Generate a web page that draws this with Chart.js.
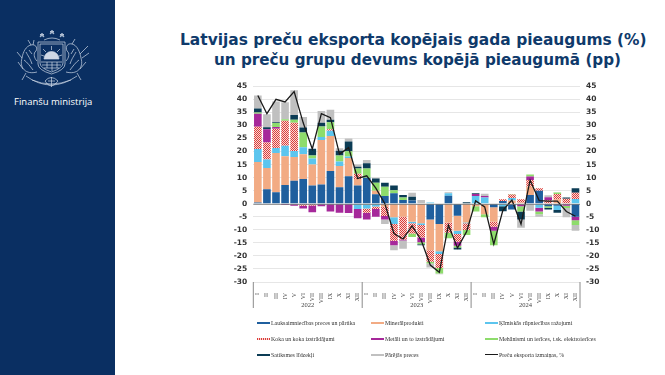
<!DOCTYPE html>
<html lang="lv">

<head>
  <meta charset="UTF-8">
  <title>Preču eksports</title>
  <script src="https://cdn.jsdelivr.net/npm/chart.js"></script>
  <style>
    html, body { margin: 0; padding: 0; background: #fff; }
    #page { position: relative; width: 665px; height: 375px; overflow: hidden; }
    #side { position: absolute; left: 0; top: 0; width: 115px; height: 375px; background: #0a2f62; }
    #side svg { position: absolute; left: 14px; top: 28px; }
    #org { position: absolute; left: 14px; top: 95px; color: #fff; font: 9.5px "Open Sans", sans-serif; white-space: nowrap; }
    .title { position: absolute; color: #0f3a6b; font: bold 15.45px "DejaVu Sans", sans-serif; white-space: nowrap; }
    #chart { position: absolute; left: 0; top: 0; }
    .leg { position: absolute; font: 5.9px "Liberation Serif", serif; color: #333; white-space: nowrap; line-height: 8px; }
    .swatch { position: absolute; width: 13px; height: 2px; }
  </style>
</head>

<body>
  <div id="page">
    <div id="side">
      <svg width="80" height="66" viewBox="0 0 80 66" fill="none" stroke="#cfd8e6" stroke-width="0.7">
        <path d="M24 14 H51 V36 Q51 42 37.5 46 Q24 42 24 36 Z" />
        <path d="M26 16 H49 V35 Q49 40 37.5 44 Q26 40 26 35 Z" />
        <path d="M30 31 A7.5 7.5 0 0 1 45 31 Z" fill="#cfd8e6" />
        <path d="M27 27 L30 28 M29 21 L32 24 M37.5 18 V22 M46 21 L43 24 M48 27 L45 28" />
        <path d="M27 34 H48 M28 37 H47 M30 40 H45 M33 34 V40 M38 34 V43 M43 34 V40" />
        <path d="M26 9 l2 -4 l2 4 l-4 -2.5 h4 Z M36 6 l2 -4 l2 4 l-4 -2.5 h4 Z M46 9 l2 -4 l2 4 l-4 -2.5 h4 Z" />
        <path d="M30 12 Q38 8 46 12" />
        <path d="M23 44 C12 47 5 40 8 30 C9 24 12 18 17 17 C21 16 24 19 22 23 C19 25 20 30 23 33 M9 41 L4 34 M8 30 L3 24 M12 45 L8 52 M17 17 L14 12 M19 17 L20 12 M12 24 C14 28 16 30 18 36 M10 32 C13 34 16 38 19 42 M15 22 L18 26" />
        <path d="M52 44 C63 47 70 40 67 30 C66 24 63 17 58 16 C54 15 51 18 53 23 C56 25 55 30 52 33 M66 41 L72 34 M66 26 L74 18 M68 30 L75 25 M63 45 L67 52 M58 16 L61 11 M62 24 C60 28 58 30 56 36 M65 32 C62 34 59 38 56 42 M60 21 L57 26" />
        <path d="M12 48 Q37 66 63 48 M18 52 Q37 60 57 52" />
        <path d="M31 53 Q37 46 44 53 Q37 63 31 53 Z M34 53 H41 M37.5 49 V59" />
      </svg>
      <div id="org">Finanšu ministrija</div>
    </div>
    <div class="title" style="left:180px;top:31px">Latvijas preču eksporta kopējais gada pieaugums (%)</div>
    <div class="title" style="left:214px;top:51px;font-size:15.2px">un preču grupu devums kopējā pieaugumā (pp)</div>
    <canvas id="chart" width="665" height="375"></canvas>
    <div id="legend"></div>
  </div>

  <script>
    const months = ['I', 'II', 'III', 'IV', 'V', 'VI', 'VII', 'VIII', 'IX', 'X', 'XI', 'XII'];
    const categories = [...months, ...months, ...months];
    const years = ['2022', '2023', '2024'];
    const yTicksMin = -30;
    const yTicksMax = 45;

    const agri = [0.5, 5.5, 4.4, 7.2, 8.8, 9.5, 7, 7.4, 12.5, 6.3, 10.5, 7,
      10, 3.6, 3, 4, 1.4, 1.2, 0, -6, -7.8, 3.1, -4.6, 0,
      0, 0, -1.4, 1, -2.2, 0, 3.3, 5, -1, -0.8, 0, -5];
    const mineral = [15.5, 8.2, 15, 11, 9.1, 9.5, 8, 17, 13.5, 8.2, 7, 2.5,
      -0.3, 1.4, -1.2, -5.2, -5, -6.9, -7.5, -11.8, -10.4, -7.2, -5.8, -7.2,
      -1, -4, -5.5, 0, 1.2, 0.5, 3.2, 0, 0, 1.7, 0.2, 0];
    const chem = [5, 3.2, 2, 4, 2.3, 2.6, 2.3, 1.2, 2, 1.7, 0.6, -2,
      -1.5, -1.1, 0, -2.6, 0, -0.6, -0.7, 0.5, -1.1, 0.9, -1.2, -0.3,
      3, 2.4, 0, -1, 1, 0, 0, -1.5, 0, -1.6, 0, 1.8];
    const wood = [8.5, 6.6, 7.3, 9.6, 10.8, -0.8, -0.7, 0, 0.5, 0, 0, 2,
      -1.7, -0.9, -3.5, -6.4, -8.7, -3.9, -4.7, -4.4, -5.3, -3.9, -3, -2.6,
      0, 0, -1.9, 0.7, 1.3, 1.2, 2.6, 0.9, 1.3, 2, 1.7, 2.4];
    const metals = [5, 5, 0.7, -0.5, -0.8, -1, -2.6, -1, -3, -3.5, -3.6, -3.6,
      -2.5, -3, -1.3, -1.7, -0.4, 0, -1.9, 0, 0, 0, -1.5, 0,
      0.7, 0.6, -1.6, 0, 0, -1, 1.3, -1.5, 1.2, 0, -0.8, -1.3];
    const machinery = [0.5, -0.2, 1.5, 0.6, 1.2, 5.7, 1.2, 4, 2.7, 2.3, 2, 2,
      3.5, 3, 3.5, 1.2, 1, -1.4, -0.7, -0.7, -2.1, -2.1, -0.7, -1.9,
      -2, -1.2, -5.5, 0, 0.2, -2, 0.8, -1, -0.5, 0.6, -0.8, -1.9];
    const transport = [1.5, 0.8, 0.3, 0, 1.8, 1.9, 2.6, 1.4, 1, 1.8, 3.7, 0.7,
      2, 1.7, 1.5, 1.8, 0.9, 1.5, -0.4, 0, 0, 0, -0.7, 0.6,
      0.3, 0, 0, -1.9, 0, -3, 0, 0, -0.7, -1.1, 0.5, 1.7];
    const other = [5, 5, 8, 6.5, 9.5, 4, 0, 4.5, 3.8, 1, 1.2, 0.8,
      1.3, 0.3, -1.8, -1.9, -3.2, 1.5, 1.4, -1.5, -0.3, 0.4, 0, 0,
      0, 0.8, 0, 0, 0, -3.2, -2.7, -1, 0.7, 0.1, -3.6, -2.2];
    const exportChange = [41.5, 34.5, 40, 39, 43, 31, 21, 34.5, 33, 19, 21.5, 9.7,
      10.7, 6, 0, -11.4, -13.5, -8.5, -14, -23.5, -26.3, -8.2, -17, -10.7,
      1.1, -1.2, -15.5, -2.5, 1.4, -7.8, 9, 1.2, 1, 1, -3, -4.8];

    // red and white checks for the wood series
    function hatch() {
      const c = document.createElement('canvas');
      c.width = 2;
      c.height = 2;
      const x = c.getContext('2d');
      x.fillStyle = '#f7dcd6';
      x.fillRect(0, 0, 2, 2);
      x.fillStyle = '#dd3a3a';
      x.fillRect(0, 0, 1, 1);
      x.fillRect(1, 1, 1, 1);
      return x.createPattern(c, 'repeat');
    }

    const barSeries = [
      { label: 'Lauksaimniecības preces un pārtika', data: agri, color: '#1f5f9e' },
      { label: 'Minerālprodukti', data: mineral, color: '#f2ab84' },
      { label: 'Ķīmiskās rūpniecības ražojumi', data: chem, color: '#5cc5ee' },
      { label: 'Koka un koka izstrādājumi', data: wood, color: hatch() },
      { label: 'Metāli un to izstrādājumi', data: metals, color: '#a6289a' },
      { label: 'Mehānismi un ierīces, t.sk. elektroierīces', data: machinery, color: '#8edc6c' },
      { label: 'Satiksmes līdzekļi', data: transport, color: '#0c3c55' },
      { label: 'Pārējās preces', data: other, color: '#c0c0c0' }
    ];
    const lineLabel = 'Preču eksporta izmaiņas, %';

    const yearGroups = {
      id: 'yearGroups',
      afterDraw(chart) {
        const { ctx, scales: { x }, chartArea } = chart;
        const step = x.getPixelForValue(1) - x.getPixelForValue(0);
        ctx.save();
        ctx.strokeStyle = '#8a8a8a';
        ctx.lineWidth = 1;
        ctx.fillStyle = '#444';
        ctx.font = '6.5px "Liberation Serif", serif';
        ctx.textAlign = 'center';
        ctx.textBaseline = 'middle';
        years.forEach((year, i) => {
          const first = x.getPixelForValue(i * 12) - step / 2;
          const last = x.getPixelForValue(i * 12 + 11) + step / 2;
          ctx.fillText(year, (first + last) / 2, chartArea.bottom + 23);
          ctx.beginPath();
          ctx.moveTo(first, chartArea.bottom);
          ctx.lineTo(first, chartArea.bottom + 26);
          if (i === years.length - 1) {
            ctx.moveTo(last, chartArea.bottom);
            ctx.lineTo(last, chartArea.bottom + 26);
          }
          ctx.stroke();
        });
        ctx.restore();
      }
    };

    // the zero line sits on top of the bars
    const zeroLine = {
      id: 'zeroLine',
      afterDatasetsDraw(chart) {
        const { ctx, scales: { y }, chartArea } = chart;
        const py = Math.round(y.getPixelForValue(0)) + 0.5;
        ctx.save();
        ctx.strokeStyle = 'rgba(110,110,110,0.7)';
        ctx.lineWidth = 1;
        ctx.beginPath();
        ctx.moveTo(chartArea.left, py);
        ctx.lineTo(chartArea.right, py);
        ctx.stroke();
        ctx.restore();
      }
    };

    const yAxis = (position, width) => ({
      position: position,
      min: yTicksMin,
      max: yTicksMax,
      border: { display: false },
      grid: {
        drawTicks: false,
        drawOnChartArea: position === 'left',
        color: '#e6e6e6'
      },
      ticks: {
        stepSize: 5,
        padding: 6,
        color: '#333',
        font: { family: '"DejaVu Sans"', size: 7.5, weight: 'bold' }
      },
      afterFit: scale => { scale.width = width; }
    });

    new Chart(document.getElementById('chart'), {
      data: {
        labels: categories,
        datasets: [
          {
            type: 'line',
            label: lineLabel,
            data: exportChange,
            borderColor: '#1a1a1a',
            borderWidth: 1.3,
            pointRadius: 0,
            tension: 0,
            order: 0
          },
          ...barSeries.map(s => ({
            type: 'bar',
            label: s.label,
            data: s.data,
            backgroundColor: s.color,
            stack: 'groups',
            barPercentage: 0.84,
            categoryPercentage: 1,
            order: 1
          }))
        ]
      },
      options: {
        responsive: false,
        animation: false,
        layout: { padding: { left: 223.3, right: 55, top: 86.3, bottom: 67 } },
        plugins: { legend: { display: false }, tooltip: { enabled: false } },
        scales: {
          x: {
            stacked: true,
            border: { display: false },
            grid: { display: false },
            ticks: {
              autoSkip: false,
              minRotation: 90,
              maxRotation: 90,
              padding: 3,
              color: '#444',
              font: { family: '"Liberation Serif"', size: 6 }
            },
            afterFit: scale => { scale.height = 26; }
          },
          y: { ...yAxis('left', 30), stacked: true },
          yRight: yAxis('right', 30)
        }
      },
      plugins: [zeroLine, yearGroups]
    });

    // legend in three columns, like the original
    const legendCols = [257, 371, 485];
    const legendRows = [323, 339, 355];
    const legend = document.getElementById('legend');
    [...barSeries.map(s => s.label), lineLabel].forEach((label, i) => {
      const left = legendCols[i % 3];
      const top = legendRows[Math.floor(i / 3)];
      const swatch = document.createElement('div');
      swatch.className = 'swatch';
      swatch.style.left = left + 'px';
      swatch.style.top = (top - 1) + 'px';
      if (i === 3) {
        swatch.style.background = 'repeating-linear-gradient(90deg,#dd3a3a 0 1px,#f7dcd6 1px 2px)';
      } else if (i === 8) {
        swatch.style.background = '#1a1a1a';
        swatch.style.height = '1px';
      } else {
        swatch.style.background = barSeries[i].color;
      }
      legend.appendChild(swatch);
      const text = document.createElement('div');
      text.className = 'leg';
      text.textContent = label;
      text.style.left = (left + 14) + 'px';
      text.style.top = (top - 4) + 'px';
      legend.appendChild(text);
    });
  </script>
</body>

</html>
